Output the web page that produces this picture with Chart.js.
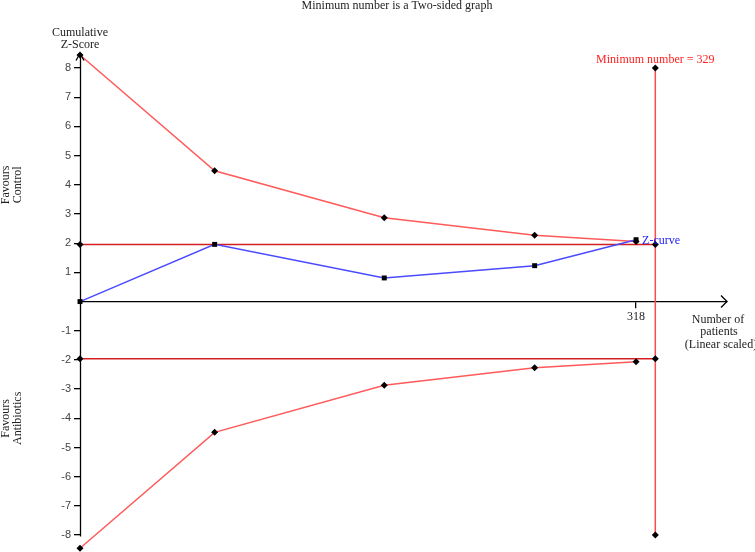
<!DOCTYPE html>
<html>
<head>
<meta charset="utf-8">
<script src="https://cdn.jsdelivr.net/npm/chart.js@4.4.1/dist/chart.umd.min.js"></script>
<style>
html, body { margin: 0; padding: 0; background: #fff; }
</style>
</head>
<body>
<canvas id="chart" width="755" height="552"></canvas>
<script>
// trial sequential analysis values
var patients = [0, 77, 174, 260, 318];
var upperBoundary = [8.45, 4.48, 2.87, 2.27, 2.06];
var lowerBoundary = [-8.45, -4.48, -2.87, -2.27, -2.06];
var zCurve = [0, 1.96, 0.81, 1.23, 2.12];
var conventional = 1.96;
var minimumNumber = 329;
var boundaryEnds = [8, -8];
var yTicks = [-8, -7, -6, -5, -4, -3, -2, -1, 1, 2, 3, 4, 5, 6, 7, 8];
var xTicks = [318];

var serif = '"Liberation Serif", "Times New Roman", serif';

var pts = function(xs, ys) {
    return xs.map(function(x, i) {
        return { x: x, y: ys[i] };
    });
};

var noPadding = function(scale) {
    scale.paddingTop = 0;
    scale.paddingBottom = 0;
    scale.paddingLeft = 0;
    scale.paddingRight = 0;
};

var annotations = {
    id: 'annotations',
    beforeDatasetsDraw: function(chart) {
        // y axis line, stops near the last tick like the original
        var ctx = chart.ctx,
            sx = chart.scales.x,
            sy = chart.scales.y,
            x0 = Math.round(sx.getPixelForValue(0)) + 0.5;
        ctx.save();
        ctx.strokeStyle = '#000';
        ctx.lineWidth = 1.3;
        ctx.beginPath();
        ctx.moveTo(x0, chart.chartArea.top);
        ctx.lineTo(x0, sy.getPixelForValue(-8.05));
        ctx.stroke();
        ctx.restore();
    },
    afterDraw: function(chart) {
        var ctx = chart.ctx,
            sx = chart.scales.x,
            sy = chart.scales.y,
            x0 = sx.getPixelForValue(0),
            y0 = sy.getPixelForValue(0),
            top = chart.chartArea.top,
            right = chart.chartArea.right;

        ctx.save();
        // axis arrows
        ctx.strokeStyle = '#000';
        ctx.lineWidth = 1.3;
        ctx.beginPath();
        ctx.moveTo(x0 - 4, top + 7);
        ctx.lineTo(x0, top);
        ctx.lineTo(x0 + 4, top + 7);
        ctx.moveTo(right - 6, y0 - 6);
        ctx.lineTo(right, y0);
        ctx.lineTo(right - 6, y0 + 6);
        ctx.stroke();

        ctx.font = '12px ' + serif;
        ctx.textAlign = 'center';
        ctx.textBaseline = 'middle';
        ctx.fillStyle = '#222';
        ctx.fillText('Minimum number is a Two-sided graph', 397, 6);
        ctx.fillText('Cumulative', x0, 33);
        ctx.fillText('Z-Score', x0, 45);

        ctx.fillText('Number of', 718, y0 + 18);
        ctx.fillText('patients', 719, y0 + 30.5);
        ctx.fillText('(Linear scaled)', 721, y0 + 43);

        // side labels
        var side = function(cy, a, b) {
            ctx.save();
            ctx.translate(12, cy);
            ctx.rotate(-Math.PI / 2);
            ctx.fillText(a, 0, -6);
            ctx.fillText(b, 0, 6);
            ctx.restore();
        };
        side(sy.getPixelForValue(4), 'Favours', 'Control');
        side(sy.getPixelForValue(-4), 'Favours', 'Antibiotics');

        ctx.fillStyle = '#ff2020';
        ctx.fillText('Minimum number = ' + minimumNumber, sx.getPixelForValue(minimumNumber), 60);

        ctx.fillStyle = '#2020ff';
        ctx.textAlign = 'left';
        var last = zCurve.length - 1;
        ctx.fillText('Z-curve', sx.getPixelForValue(patients[last]) + 6, sy.getPixelForValue(zCurve[last]) + 1);
        ctx.restore();
    }
};

var chart = new Chart(document.getElementById('chart'), {
    type: 'line',
    data: {
        datasets: [{
            label: 'Z-curve',
            data: pts(patients, zCurve),
            borderColor: '#4a4aff',
            borderWidth: 1.5,
            pointStyle: 'rect',
            pointRadius: 3.5,
            pointBackgroundColor: '#000',
            pointBorderColor: '#000',
            pointBorderWidth: 0
        }, {
            label: 'Upper boundary',
            data: pts(patients, upperBoundary),
            borderColor: '#ff5a5a',
            borderWidth: 1.5,
            pointStyle: 'rectRot',
            pointRadius: 3.5,
            pointBackgroundColor: '#000',
            pointBorderColor: '#000',
            pointBorderWidth: 0
        }, {
            label: 'Lower boundary',
            data: pts(patients, lowerBoundary),
            borderColor: '#ff5a5a',
            borderWidth: 1.5,
            pointStyle: 'rectRot',
            pointRadius: 3.5,
            pointBackgroundColor: '#000',
            pointBorderColor: '#000',
            pointBorderWidth: 0
        }, {
            label: 'Conventional upper',
            data: pts([0, minimumNumber], [conventional, conventional]),
            borderColor: '#d42020',
            borderWidth: 1.5,
            pointStyle: 'rectRot',
            pointRadius: 3.5,
            pointBackgroundColor: '#000',
            pointBorderWidth: 0
        }, {
            label: 'Conventional lower',
            data: pts([0, minimumNumber], [-conventional, -conventional]),
            borderColor: '#d42020',
            borderWidth: 1.5,
            pointStyle: 'rectRot',
            pointRadius: 3.5,
            pointBackgroundColor: '#000',
            pointBorderWidth: 0
        }, {
            label: 'Minimum number',
            data: pts([minimumNumber, minimumNumber], boundaryEnds),
            borderColor: '#ff4a4a',
            borderWidth: 1.5,
            pointStyle: 'rectRot',
            pointRadius: 3.5,
            pointBackgroundColor: '#000',
            pointBorderWidth: 0
        }]
    },
    options: {
        responsive: false,
        animation: false,
        devicePixelRatio: 1,
        clip: false,
        layout: {
            autoPadding: false,
            padding: { top: 53.5, right: 28, bottom: 0, left: 0 }
        },
        plugins: {
            legend: { display: false },
            tooltip: { enabled: false }
        },
        elements: {
            line: { tension: 0 }
        },
        scales: {
            x: {
                type: 'linear',
                min: 0,
                max: 370,
                position: { y: 0 },
                afterFit: noPadding,
                afterBuildTicks: function(scale) {
                    scale.ticks = xTicks.map(function(v) { return { value: v }; });
                },
                grid: { drawOnChartArea: false, drawTicks: true, tickLength: 6, color: '#000', lineWidth: 1.3 },
                border: { display: true, color: '#000', width: 1.3 },
                ticks: {
                    padding: 2,
                    maxRotation: 0,
                    color: '#222',
                    font: { family: serif, size: 12 }
                }
            },
            y: {
                type: 'linear',
                min: -8.58,
                max: 8.5,
                position: 'left',
                afterFit: function(scale) {
                    noPadding(scale);
                    scale.width = 80;
                },
                afterBuildTicks: function(scale) {
                    scale.ticks = yTicks.map(function(v) { return { value: v }; });
                },
                grid: { drawOnChartArea: false, drawTicks: true, tickLength: 6, color: '#000', lineWidth: 1.3 },
                border: { display: false },
                ticks: {
                    padding: 3,
                    color: '#444',
                    font: { family: '"Liberation Sans", Arial, sans-serif', size: 11 }
                }
            }
        }
    },
    plugins: [annotations]
});
</script>
</body>
</html>
